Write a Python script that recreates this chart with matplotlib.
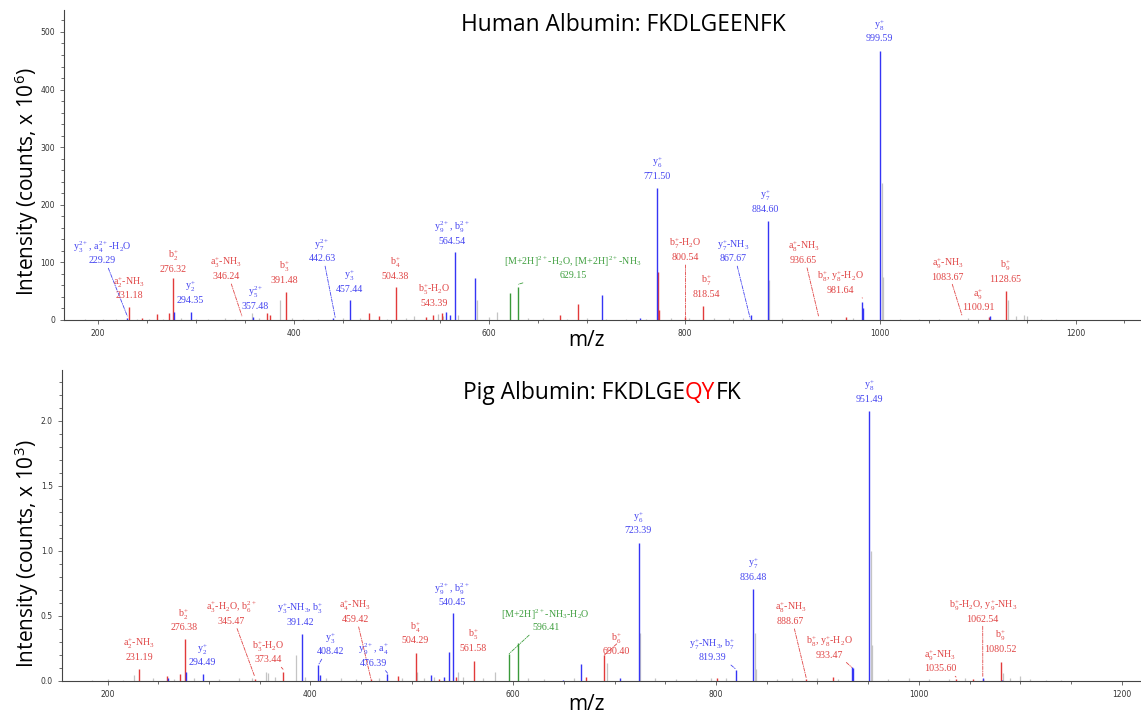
import matplotlib
matplotlib.use("Agg")
import matplotlib.pyplot as plt
from matplotlib.ticker import MultipleLocator

plt.rcParams['mathtext.default'] = 'regular'

RED = '#e23a3a'
BLUE = '#3535f5'
GREEN = '#3a9a3a'
GRAY = '#c4c4c4'
RED_T = '#e04545'
BLUE_T = '#4545f0'
GREEN_T = '#3f9f3f'

# ---------------- Human albumin peaks (intensity x 10^6) ----------------
h_red_mz = [231.7, 244.7, 260, 272, 277, 373, 376, 392, 476.7, 487.6, 504.7, 535, 543, 551.7,
            672, 691, 772.4, 774, 800.8, 819, 965, 1111, 1129]
h_red_int = [22.6, 3, 10, 11.6, 72, 11.6, 8.7, 49, 11.6, 7, 58, 5, 8.7, 11.6,
             8.7, 28, 84, 17, 5.8, 25, 5.8, 5.8, 50]
h_blue_mz = [229.5, 278, 294.9, 358, 440.5, 458, 556, 560, 564.7, 585.9, 715, 754.7, 771.8, 868,
             885.4, 981.6, 983, 999.7, 1112]
h_blue_int = [3, 14.5, 14.5, 5.8, 3, 35, 14.5, 9, 117.5, 73.5, 43, 3, 228.6, 8.7,
              172, 32, 20, 467, 7]
h_green_mz = [621, 630]
h_green_int = [46, 58]
h_gray_mz = [186, 205, 218, 240, 252, 266, 285, 300, 312, 330, 340, 357, 365, 386, 398, 410, 425,
             450, 468, 495, 515, 523, 548, 553, 568, 587.6, 600, 608, 640, 655, 680, 700, 720, 740,
             760, 786, 805, 830, 845, 860, 886.8, 900, 920, 950, 972, 1001.6, 1002.6, 1020, 1040,
             1060, 1090, 1130.8, 1138.6, 1147, 1150, 1165, 1180]
h_gray_int = [1, 1.5, 1, 2, 2.5, 2, 3, 2, 1.5, 3, 2, 12, 3, 35, 4, 2, 2, 3, 4, 2.5, 4, 6, 10, 6, 8,
              35, 5, 14.5, 3, 3, 2, 3, 2, 2, 2, 3, 3, 3, 4, 3, 69, 3, 2, 2, 3, 237, 75, 2, 2,
              2, 3, 35, 6, 9, 6, 2, 1.5]

h_lab_text = ['y$_3^{2+}$, a$_4^{2+}$-H$_2$O', 'a$_2^{+}$-NH$_3$', 'b$_2^{+}$', 'y$_2^{+}$',
              'a$_3^{+}$-NH$_3$', 'y$_5^{2+}$', 'b$_3^{+}$', 'y$_7^{2+}$', 'y$_3^{+}$', 'b$_4^{+}$',
              'b$_5^{+}$-H$_2$O', 'y$_9^{2+}$, b$_9^{2+}$',
              '[M+2H]$^{2+}$-H$_2$O, [M+2H]$^{2+}$-NH$_3$', 'y$_6^{+}$', 'b$_7^{+}$-H$_2$O',
              'b$_7^{+}$', 'y$_7^{+}$-NH$_3$', 'y$_7^{+}$', 'a$_8^{+}$-NH$_3$',
              'b$_8^{+}$, y$_8^{+}$-H$_2$O', 'y$_8^{+}$', 'a$_9^{+}$-NH$_3$', 'a$_9^{+}$', 'b$_9^{+}$']
h_lab_val = ['229.29', '231.18', '276.32', '294.35', '346.24', '357.48', '391.48', '442.63',
             '457.44', '504.38', '543.39', '564.54', '629.15', '771.50', '800.54', '818.54',
             '867.67', '884.60', '936.65', '981.64', '999.59', '1083.67', '1100.91', '1128.65']
h_lab_col = ['b', 'r', 'r', 'b', 'r', 'b', 'r', 'b', 'b', 'r', 'r', 'b', 'g', 'b', 'r', 'r',
             'b', 'b', 'r', 'r', 'b', 'r', 'r', 'r']
# label placement (layout) and leader targets
h_lab_pos = [(204, 117), (231.7, 55.6), (276.8, 102), (294, 48.6), (331, 89), (360.7, 38),
             (390, 83), (429, 120.6), (457, 67.7), (504, 89), (544, 42.5), (562, 151),
             (686, 91), (772, 263), (801, 122), (822, 59), (850, 120), (883, 206),
             (921.6, 117), (959.5, 65), (999, 502), (1069, 88.5), (1100.7, 35), (1128, 85)]
h_lab_tip = [(229.7, 7), None, None, None, (347, 7), None, None, (442.6, 3.5), None, None,
             None, None, (630, 62), None, (801, 3.5), None, (867, 3.5), None, (937, 7),
             (982, 38), None, (1084, 7), None, None]

# ---------------- Pig albumin peaks (intensity x 10^3) ----------------
p_red_mz = [231, 259, 271.3, 276.2, 345, 373.2, 459.7, 486.6, 504, 527, 543.5, 561.5, 672, 689.7,
            800.6, 889, 915.6, 1036.6, 1053, 1063.5, 1081]
p_red_int = [0.09, 0.038, 0.05, 0.32, 0.012, 0.072, 0.015, 0.038, 0.213, 0.015, 0.03, 0.156, 0.03,
             0.2, 0.02, 0.012, 0.028, 0.012, 0.015, 0.015, 0.144]
p_blue_mz = [259.5, 277.2, 294.3, 391.3, 407.7, 409, 476, 518.8, 531.7, 536.9, 540.2, 649, 666.5,
             705, 724, 819.6, 836.7, 933.7, 935.3, 951, 1063, 1081.5]
p_blue_int = [0.02, 0.072, 0.05, 0.36, 0.123, 0.046, 0.054, 0.046, 0.033, 0.22, 0.52, 0.01, 0.13,
              0.02, 1.064, 0.085, 0.705, 0.105, 0.1, 2.077, 0.02, 0.01]
p_green_mz = [596, 605]
p_green_int = [0.208, 0.295]
p_gray_mz = [185, 200, 215, 226, 245, 265, 285, 310, 330, 342, 355.8, 358, 365, 385.4, 395, 415,
             430, 445, 468, 490, 505.3, 512, 522, 545.8, 550, 570, 582, 615, 630, 660, 692, 725.4,
             740, 760, 780, 795, 810, 837.9, 839.4, 860, 875, 900, 920, 952.6, 953.8, 970, 990,
             1010, 1030, 1045, 1082.6, 1090, 1099.7, 1110, 1125, 1140]
p_gray_int = [0.01, 0.015, 0.01, 0.046, 0.02, 0.015, 0.02, 0.015, 0.02, 0.02, 0.072, 0.06, 0.03,
              0.2, 0.03, 0.02, 0.02, 0.015, 0.02, 0.025, 0.072, 0.02, 0.03, 0.07, 0.03, 0.02,
              0.067, 0.02, 0.015, 0.02, 0.136, 0.366, 0.02, 0.015, 0.015, 0.02, 0.02, 0.366, 0.09,
              0.015, 0.02, 0.02, 0.015, 1.0, 0.277, 0.015, 0.02, 0.015, 0.015, 0.02, 0.06, 0.02,
              0.035, 0.015, 0.01, 0.01]

p_lab_text = ['a$_2^{+}$-NH$_3$', 'b$_2^{+}$', 'y$_2^{+}$', 'a$_3^{+}$-H$_2$O, b$_6^{2+}$',
              'b$_3^{+}$-H$_2$O', 'y$_3^{+}$-NH$_3$, b$_3^{+}$', 'y$_3^{+}$', 'a$_4^{+}$-NH$_3$',
              'y$_9^{2+}$, a$_4^{+}$', 'b$_4^{+}$', 'y$_9^{2+}$, b$_9^{2+}$',
              '[M+2H]$^{2+}$-NH$_3$-H$_2$O', 'b$_5^{+}$', 'b$_6^{+}$', 'y$_6^{+}$',
              'y$_7^{+}$-NH$_3$, b$_7^{+}$', 'y$_7^{+}$', 'a$_8^{+}$-NH$_3$',
              'b$_8^{+}$, y$_8^{+}$-H$_2$O', 'y$_8^{+}$', 'a$_9^{+}$-NH$_3$',
              'b$_9^{+}$-H$_2$O, y$_9^{+}$-NH$_3$', 'b$_9^{+}$']
p_lab_val = ['231.19', '276.38', '294.49', '345.47', '373.44', '391.42', '408.42', '459.42',
             '476.39', '504.29', '540.45', '596.41', '561.58', '690.40', '723.39', '819.39',
             '836.48', '888.67', '933.47', '951.49', '1035.60', '1062.54', '1080.52']
p_lab_col = ['r', 'r', 'b', 'r', 'r', 'b', 'b', 'r', 'b', 'r', 'b', 'g', 'r', 'r', 'b', 'b',
             'b', 'r', 'r', 'b', 'r', 'r', 'r']
p_lab_pos = [(230.9, 0.246), (275, 0.47), (293.7, 0.2), (322, 0.523), (358, 0.223),
             (390, 0.51), (420, 0.285), (444, 0.533), (462, 0.2), (503, 0.37), (539.6, 0.665),
             (632, 0.47), (560.6, 0.314), (702, 0.285), (723, 1.215), (796.7, 0.24),
             (836.7, 0.856), (873.6, 0.518), (912, 0.26), (951, 2.228), (1020.8, 0.154),
             (1062.9, 0.538), (1080, 0.303)]
p_lab_tip = [None, None, None, (345, 0.035), (373, 0.09), None, (408, 0.125), (459.7, 0.015),
             (476, 0.06), None, None, (596, 0.21), None, (690, 0.2), None, (819.6, 0.09), None,
             (889, 0.02), (933.7, 0.105), None, (1036.6, 0.03), (1063, 0.03), None]

tcol = {'r': RED_T, 'b': BLUE_T, 'g': GREEN_T}

fig = plt.figure(figsize=(11.41, 7.19), dpi=100)
ax1 = fig.add_axes([0.0561, 0.555, 0.9439, 0.431])
ax2 = fig.add_axes([0.0543, 0.0529, 0.9457, 0.4325])


def draw_panel(ax, red, blue, green, gray, labels, xlim, ylim, ymaj, ymin):
    ax.vlines(gray[0], 0, gray[1], color=GRAY, lw=0.9)
    ax.vlines(red[0], 0, red[1], color=RED, lw=1.0)
    ax.vlines(green[0], 0, green[1], color=GREEN, lw=1.0)
    ax.vlines(blue[0], 0, blue[1], color=BLUE, lw=1.0)
    for txt, val, c, pos, tip in zip(*labels):
        s = txt + '\n' + val
        kw = dict(ha='center', va='center', fontsize=7.2, color=tcol[c],
                  family='Liberation Serif', linespacing=1.25)
        if tip is None:
            ax.text(pos[0], pos[1], s, **kw)
        else:
            ax.annotate(s, xy=tip, xytext=pos, textcoords='data',
                        arrowprops=dict(arrowstyle='-', color=tcol[c], lw=0.6,
                                        ls=(0, (4, 1.5, 1, 1.5)), shrinkA=0, shrinkB=0),
                        **kw)
    ax.set_xlim(*xlim)
    ax.set_ylim(*ylim)
    for side in ('top', 'right'):
        ax.spines[side].set_visible(False)
    for side in ('left', 'bottom'):
        ax.spines[side].set_color('#444444')
        ax.spines[side].set_linewidth(0.8)
    ax.xaxis.set_major_locator(MultipleLocator(200))
    ax.xaxis.set_minor_locator(MultipleLocator(50))
    ax.yaxis.set_major_locator(MultipleLocator(ymaj))
    ax.yaxis.set_minor_locator(MultipleLocator(ymin))
    ax.tick_params(which='both', direction='out', colors='#555555', labelsize=5.5,
                   labelcolor='#333333', width=0.6)
    ax.tick_params(which='major', length=3)
    ax.tick_params(which='minor', length=2)


draw_panel(ax1, (h_red_mz, h_red_int), (h_blue_mz, h_blue_int), (h_green_mz, h_green_int),
           (h_gray_mz, h_gray_int),
           (h_lab_text, h_lab_val, h_lab_col, h_lab_pos, h_lab_tip),
           (165, 1267), (0, 538), 100, 20)
draw_panel(ax2, (p_red_mz, p_red_int), (p_blue_mz, p_blue_int), (p_green_mz, p_green_int),
           (p_gray_mz, p_gray_int),
           (p_lab_text, p_lab_val, p_lab_col, p_lab_pos, p_lab_tip),
           (155, 1219), (0, 2.39), 0.5, 0.1)
ax2.yaxis.set_major_formatter(matplotlib.ticker.FormatStrFormatter('%.1f'))

SANS = 'Open Sans'
ax1.set_ylabel('Intensity (counts, x 10$^{6}$)', family=SANS, fontsize=15)
ax2.set_ylabel('Intensity (counts, x 10$^{3}$)', family=SANS, fontsize=15)
ax1.yaxis.set_label_coords(-0.0215, 0.445)
ax2.yaxis.set_label_coords(-0.0195, 0.408)
fig.text(587 / 1141, 1 - 340 / 719, 'm/z', family=SANS, fontsize=15, ha='center', va='center')
fig.text(587 / 1141, 1 - 705 / 719, 'm/z', family=SANS, fontsize=15, ha='center', va='center')

fig.text(623 / 1141, 1 - 25 / 719, 'Human Albumin: FKDLGEENFK', family=SANS, fontsize=16.4,
         ha='center', va='center')

# pig title with highlighted residues
parts = [('Pig Albumin: FKDLGE', 'black'), ('QY', '#ff0000'), ('FK', 'black')]
fig.canvas.draw()
r = fig.canvas.get_renderer()
widths = []
for s, c in parts:
    t = fig.text(0, 0, s, family=SANS, fontsize=16.4)
    widths.append(t.get_window_extent(r).width)
    t.remove()
x0 = 602 - sum(widths) / 2
for (s, c), w in zip(parts, widths):
    fig.text(x0 / 1141, 1 - 393 / 719, s, family=SANS, fontsize=16.4, color=c,
             ha='left', va='center')
    x0 += w

fig.savefig('out.png', dpi=100)
